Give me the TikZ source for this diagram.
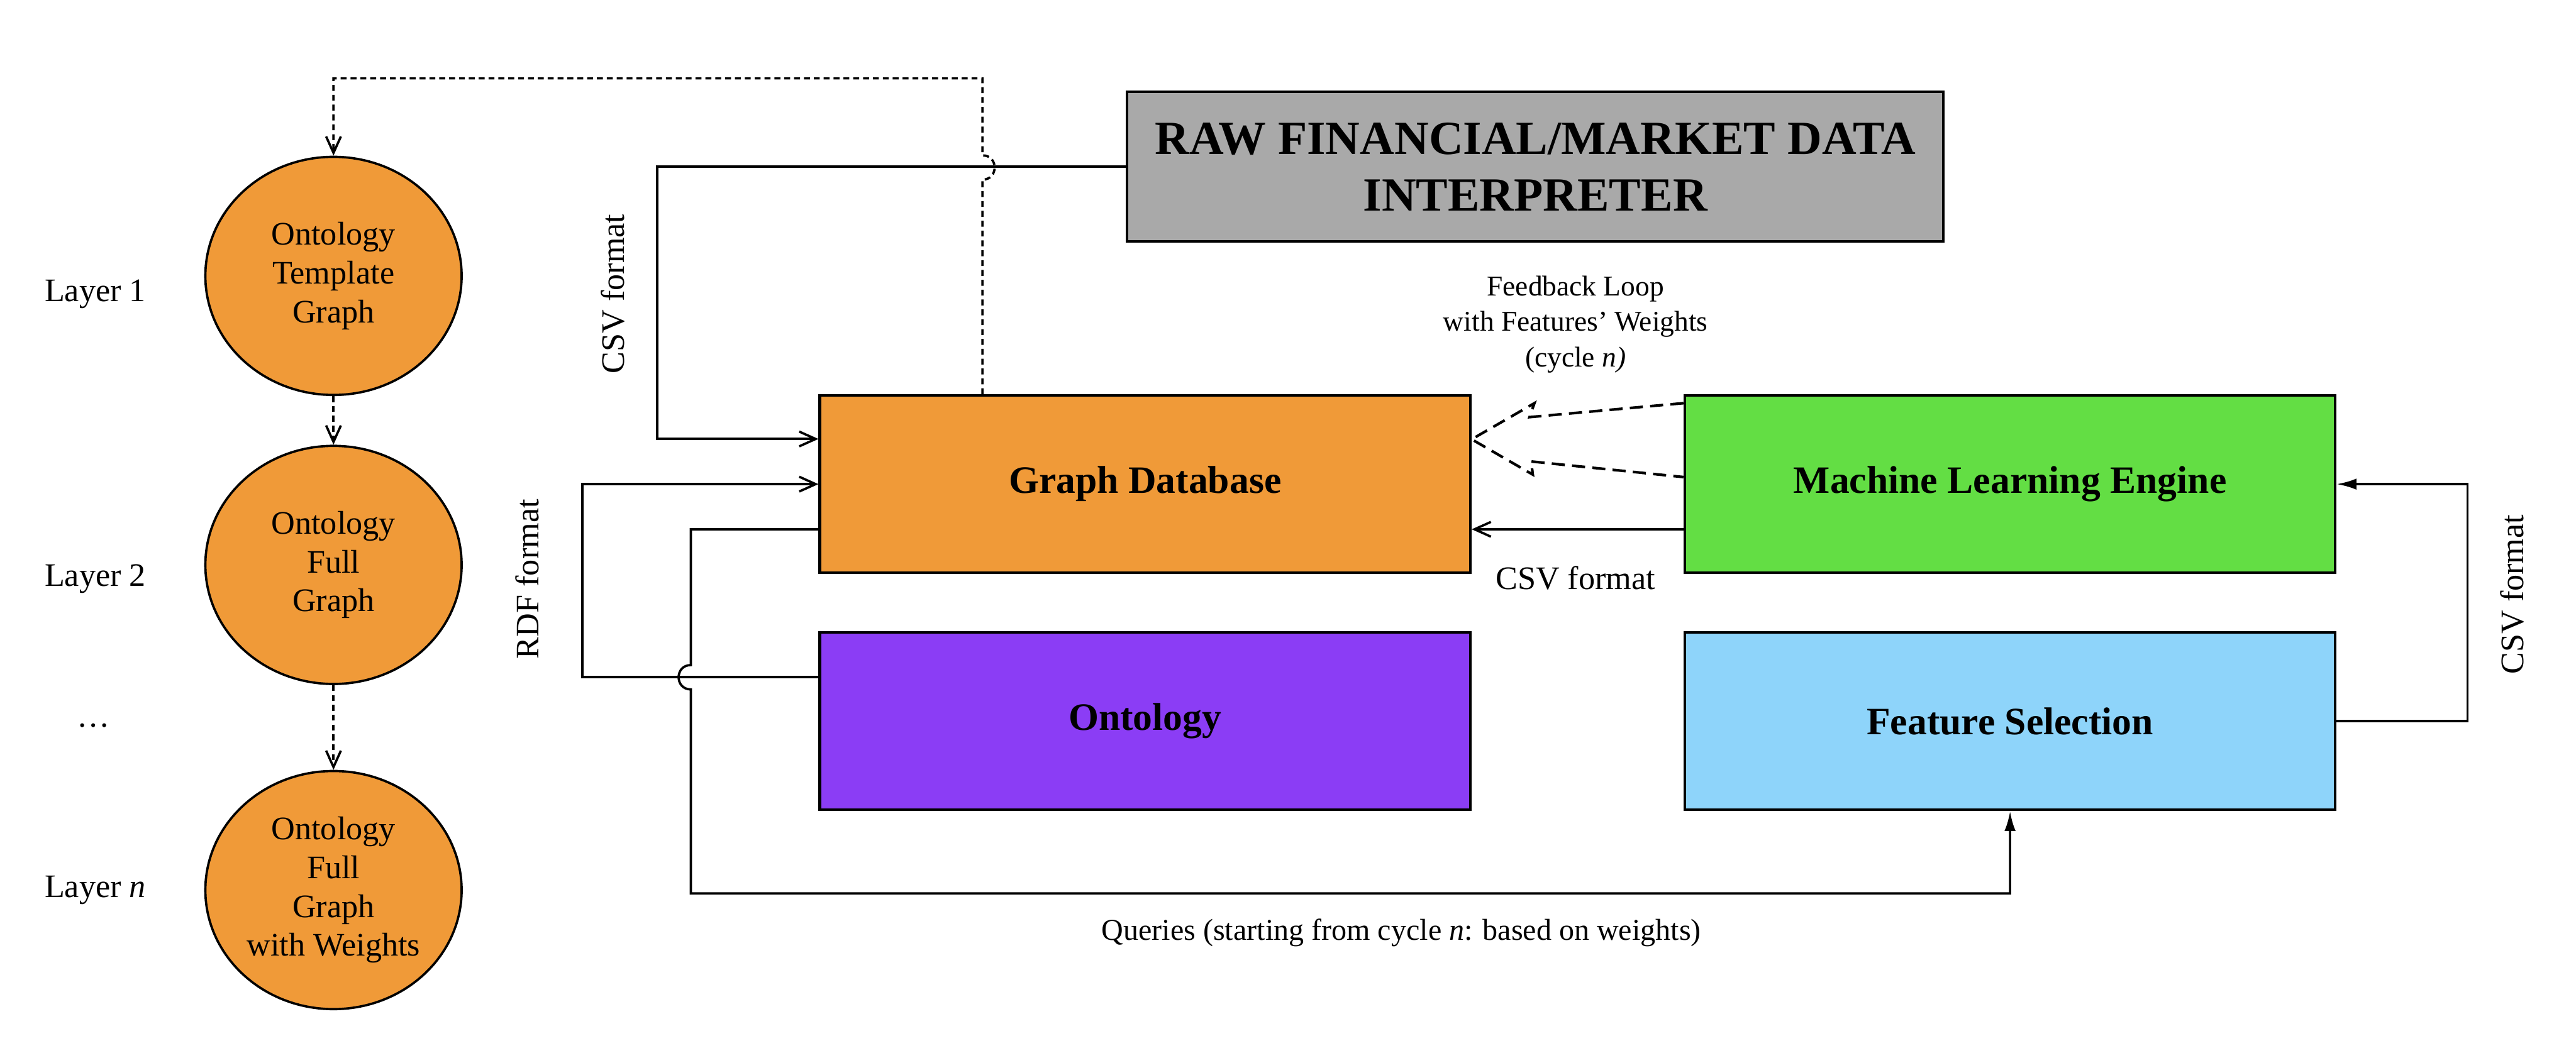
\documentclass[tikz,border=0pt]{standalone}
\usepackage{fontspec}
\setmainfont{Liberation Serif}
\usetikzlibrary{arrows.meta,shapes.geometric}
\definecolor{orangeF}{HTML}{F09A38}
\definecolor{greenF}{HTML}{63DE44}
\definecolor{purpleF}{HTML}{8B3DF5}
\definecolor{blueF}{HTML}{8ED4FA}
\definecolor{grayF}{HTML}{A9A9A9}
\begin{document}
\begin{tikzpicture}[x=0.5pt,y=-0.5pt,
  box/.style={draw, line width=0.8pt, minimum width=198pt, minimum height=54pt, inner sep=0pt, font=\fontsize{11.8}{14}\selectfont\bfseries},
  layer/.style={draw, ellipse, line width=0.7pt, fill=orangeF, minimum width=78pt, minimum height=72.5pt, inner sep=0pt, align=center, font=\fontsize{10}{11.8}\selectfont},
  lbl/.style={font=\fontsize{10}{12}\selectfont, inner sep=0pt},
  conn/.style={line width=0.7pt},
  barb/.style={-{Straight Barb[length=5pt,width=4.5pt]}},
  tri/.style={-{Latex[length=6pt,width=3.4pt]}},
  shortdash/.style={dash pattern=on 1.8pt off 1.2pt},
  longdash/.style={dash pattern=on 4pt off 2.2pt, line width=0.8pt},
]
\useasboundingbox (0,0) rectangle (1568,644);

% boxes
\node[box, fill=grayF, minimum width=248.5pt, minimum height=45.5pt, align=center,
      font=\fontsize{14.5}{17.3}\selectfont\bfseries] (raw) at (934.5,101.5) {RAW FINANCIAL/MARKET DATA\\INTERPRETER};
\node[box, fill=orangeF] (gdb) at (697,294.8) {Graph Database};
\node[box, fill=purpleF] (onto) at (697,439.2) {Ontology};
\node[box, fill=greenF] (ml) at (1223.5,294.8) {Machine Learning Engine};
\node[box, fill=blueF] (fs) at (1223.5,439.2) {Feature Selection};

% layers
\node[layer] (e1) at (203,168) {Ontology\\Template\\Graph};
\node[layer] (e2) at (203,344) {Ontology\\Full\\Graph};
\node[layer] (e3) at (203,542) {Ontology\\Full\\Graph\\with Weights};

\node[lbl] (l1) at (58,179) {Layer 1};
\node[lbl] (l2) at (58,352.6) {Layer 2};
\node[lbl] (ldots) at (57,442) {\dots};
\node[lbl] (ln) at (58,542) {Layer \textit{n}};

% labels
\node[lbl, rotate=90] (csvl) at (373,179) {CSV format};
\node[lbl, rotate=90] (rdf) at (321,352.6) {RDF format};
\node[lbl] (csvm) at (959,352) {CSV format};
\node[lbl, rotate=90] (csvr) at (1529,362) {CSV format};
\node[inner sep=0pt, align=center, font=\fontsize{8.7}{10.8}\selectfont] (fb) at (959,197.5)
  {Feedback Loop\\with Features’ Weights\\(cycle \textit{n)}};
\node[inner sep=0pt, font=\fontsize{9.2}{11}\selectfont] (q) at (853,568)
  {Queries (starting from cycle \textit{n}: based on weights)};

% layer arrows
\draw[conn, shortdash, barb] (e1) -- (e2);
\draw[conn, shortdash, barb] (e2) -- (e3);

% graph database back to layer 1 (dashed, with jump)
\draw[conn, shortdash, barb] (gdb.north -| 598,0) -- (598,109.4)
  .. controls (607.9,109.4) and (607.9,94.6) .. (598,94.6)
  -- (598,47.7) -- (203,47.7) -- (e1.north);

% raw -> graph database
\draw[conn, barb] (raw.west) -- (400,101.5) -- (400,267.3) -- (gdb.west |- 0,267.3);

% ontology -> graph database (RDF)
\draw[conn, barb] (onto.west |- 0,412.4) -- (354.5,412.4) -- (354.5,294.8) -- (gdb.west);

% queries: graph database -> feature selection (with jump)
\draw[conn, tri] (gdb.west |- 0,322.3) -- (420.5,322.3) -- (420.5,405)
  .. controls (410.6,405) and (410.6,419.8) .. (420.5,419.8)
  -- (420.5,544) -- (fs.south |- 0,544) -- (fs.south);

% ML -> graph database
\draw[conn, barb] (ml.west |- 0,322.3) -- (gdb.east |- 0,322.3);

% feature selection -> ML
\draw[conn, tri] (fs.east |- 0,439) -- (1502,439) -- (1502,294.8) -- (ml.east);

% feedback loop (dashed hollow arrow)
\draw[longdash] (ml.west |- 0,245.5) -- (931,254) -- (934,245.5) -- (gdb.east |- 0,267.5)
  -- (933,289) -- (932,281) -- (ml.west |- 0,290.5);
\end{tikzpicture}
\end{document}
